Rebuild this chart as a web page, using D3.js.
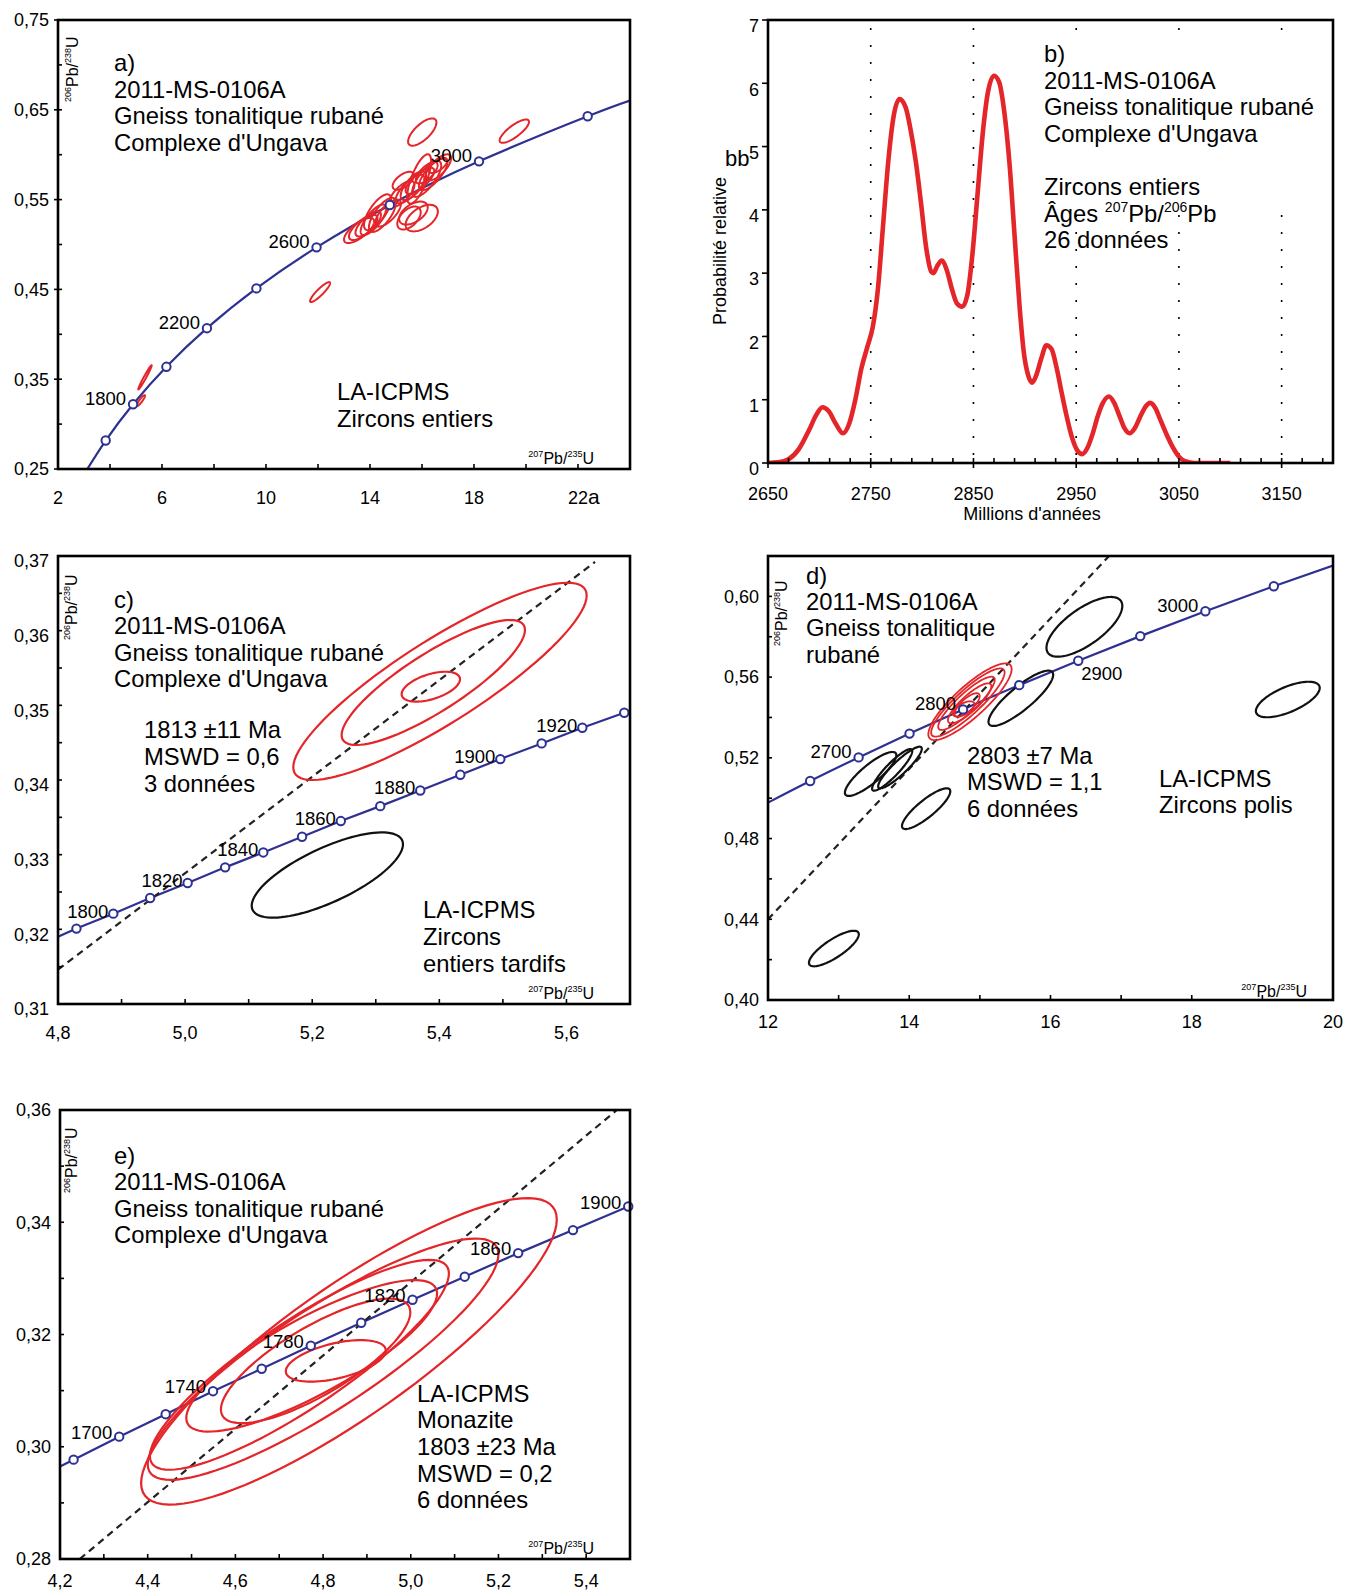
<!DOCTYPE html>
<html>
<head>
<meta charset="utf-8">
<title>2011-MS-0106A - diagrammes concordia</title>
<script src="https://d3js.org/d3.v7.min.js"></script>
<style>
  body { margin: 0; background: #fff; }
  svg { display: block; font-family: "Liberation Sans", Arial, Helvetica, sans-serif; }
</style>
</head>
<body>
<script>
var W = 1347, H = 1592;
var NAVY = "#2e3192", RED = "#e42529";

// ---------- a) zircons entiers ----------
var aConcAge = [1400, 1600, 1800, 2000, 2200, 2400, 2600, 2800, 3000, 3200, 3268];
var aConcX = [2.970, 3.834, 4.887, 6.169, 7.729, 9.630, 11.944, 14.762, 18.193, 22.372, 24.000];
var aConcY = [0.2426, 0.2817, 0.3221, 0.3638, 0.4068, 0.4511, 0.4968, 0.5440, 0.5926, 0.6428, 0.6603];
var aMarks = [1600, 1800, 2000, 2200, 2400, 2600, 2800, 3000, 3200];
var aAgeLabels = [1800, 2200, 2600, 3000];
var aXTicks = [2, 6, 10, 14, 18, 22];
var aXTickText = ["2", "6", "10", "14", "18", "22a"];
var aYTicks = [0.25, 0.35, 0.45, 0.55, 0.65, 0.75];
var aYTickText = ["0,25", "0,35", "0,45", "0,55", "0,65", "0,75"];
// [207Pb/235U, sigma, 206Pb/238U, sigma, rho]
var aZircons = [
  [5.346, 0.258, 0.3521, 0.0135, 0.98], [5.186, 0.160, 0.3261, 0.0061, 0.90],
  [12.08, 0.385, 0.4470, 0.0111, 0.90], [16.01, 0.545, 0.6252, 0.0152, 0.70],
  [19.55, 0.565, 0.6262, 0.0130, 0.80],
  [15.89, 0.46, 0.5730, 0.0275, 0.72], [16.18, 0.56, 0.5730, 0.0200, 0.75],
  [16.43, 0.55, 0.5785, 0.0180, 0.75], [16.63, 0.49, 0.5859, 0.0145, 0.70],
  [15.67, 0.49, 0.5655, 0.0160, 0.70], [15.92, 0.55, 0.5710, 0.0145, 0.75],
  [15.22, 0.49, 0.5563, 0.0145, 0.70], [15.54, 0.55, 0.5618, 0.0160, 0.75],
  [15.50, 0.45, 0.5295, 0.0128, 0.50], [15.99, 0.62, 0.5294, 0.0148, 0.50],
  [15.67, 0.55, 0.5350, 0.0128, 0.50], [14.29, 0.52, 0.5359, 0.0200, 0.72],
  [14.48, 0.52, 0.5330, 0.0190, 0.72], [14.70, 0.49, 0.5350, 0.0150, 0.70],
  [13.58, 0.58, 0.5156, 0.0140, 0.72], [13.74, 0.55, 0.5190, 0.0140, 0.72],
  [13.93, 0.49, 0.5230, 0.0140, 0.72], [14.13, 0.49, 0.5275, 0.0170, 0.75],
  [16.18, 0.42, 0.5800, 0.0120, 0.70], [15.28, 0.41, 0.5710, 0.0100, 0.60],
  [16.61, 0.35, 0.5877, 0.0080, 0.65]
];

// ---------- b) probabilite relative ----------
var bAge = [2650, 2660, 2670, 2680, 2690, 2697, 2703, 2709, 2716, 2723, 2729, 2735, 2741, 2747, 2752,
  2757, 2762, 2767, 2772, 2778, 2784, 2789, 2794, 2799, 2804, 2809, 2811, 2815, 2819, 2824, 2829, 2834,
  2839, 2844, 2849, 2854, 2859, 2864, 2870, 2875, 2880, 2885, 2890, 2895, 2899, 2903, 2907, 2911, 2916,
  2921, 2926, 2931, 2936, 2941, 2946, 2951, 2956, 2961, 2966, 2971, 2976, 2982, 2987, 2992, 2997, 3002,
  3007, 3012, 3018, 3022, 3027, 3032, 3038, 3044, 3050, 3056, 3065, 3100];
var bProb = [0, 0.01, 0.06, 0.22, 0.52, 0.76, 0.88, 0.82, 0.62, 0.47, 0.62, 1.00, 1.50, 1.85, 2.15,
  2.75, 3.75, 4.75, 5.45, 5.75, 5.62, 5.25, 4.75, 4.10, 3.40, 3.02, 3.00, 3.12, 3.20, 3.05, 2.75, 2.52,
  2.47, 2.65, 3.30, 4.25, 5.20, 5.85, 6.12, 6.02, 5.55, 4.75, 3.60, 2.45, 1.75, 1.40, 1.27, 1.38, 1.65,
  1.86, 1.80, 1.50, 1.10, 0.72, 0.40, 0.20, 0.14, 0.24, 0.46, 0.74, 0.95, 1.05, 0.95, 0.75, 0.55, 0.47,
  0.55, 0.72, 0.90, 0.95, 0.87, 0.68, 0.45, 0.25, 0.10, 0.03, 0, 0];
var bXTicks = [2650, 2750, 2850, 2950, 3050, 3150];
var bYTicks = [0, 1, 2, 3, 4, 5, 6, 7];

// ---------- c) zircons entiers tardifs ----------
var cConcAge = [1785, 1790, 1800, 1810, 1820, 1830, 1840, 1850, 1860, 1870, 1880, 1890, 1900, 1910, 1920, 1930, 1931];
var cConcX = [4.800, 4.829, 4.887, 4.945, 5.004, 5.063, 5.123, 5.184, 5.245, 5.307, 5.370, 5.433, 5.496, 5.561, 5.625, 5.691, 5.700];
var cConcY = [0.3190, 0.3201, 0.3221, 0.3242, 0.3262, 0.3283, 0.3303, 0.3324, 0.3345, 0.3365, 0.3386, 0.3407, 0.3428, 0.3449, 0.3470, 0.3490, 0.3493];
var cMarks = [1790, 1800, 1810, 1820, 1830, 1840, 1850, 1860, 1870, 1880, 1890, 1900, 1910, 1920, 1930];
var cAgeLabels = [1800, 1820, 1840, 1860, 1880, 1900, 1920];
var cXTicks = [4.8, 5.0, 5.2, 5.4, 5.6];
var cXTickText = ["4,8", "5,0", "5,2", "5,4", "5,6"];
var cYTicks = [0.31, 0.32, 0.33, 0.34, 0.35, 0.36, 0.37];
var cYTickText = ["0,31", "0,32", "0,33", "0,34", "0,35", "0,36", "0,37"];
var cRed = [[5.401, 0.2308, 0.35321, 0.01321, 0.87], [5.3905, 0.1442, 0.35306, 0.00837, 0.84], [5.3866, 0.0459, 0.3525, 0.0020, 0.50]];
var cBlack = [[5.2238, 0.119, 0.32727, 0.00571, 0.72]];
var cDiscordia = [[4.8, 0.3146], [5.645, 0.3692]];

// ---------- d) zircons polis ----------
var dConcAge = [2604, 2650, 2700, 2750, 2800, 2850, 2900, 2950, 3000, 3050, 3091];
var dConcX = [12.000, 12.597, 13.283, 14.004, 14.762, 15.557, 16.393, 17.271, 18.193, 19.162, 20.000];
var dConcY = [0.4978, 0.5085, 0.5202, 0.5320, 0.5440, 0.5560, 0.5681, 0.5803, 0.5926, 0.6050, 0.6153];
var dMarks = [2650, 2700, 2750, 2800, 2850, 2900, 2950, 3000, 3050];
var dAgeLabels = [2700, 2800, 3000];
var dAgeLabelsBelow = [2900];
var dXTicks = [12, 14, 16, 18, 20];
var dYTicks = [0.40, 0.44, 0.48, 0.52, 0.56, 0.60];
var dYTickText = ["0,40", "0,44", "0,48", "0,52", "0,56", "0,60"];
var dRed = [[14.86, 0.59, 0.5478, 0.0190, 0.85], [14.83, 0.52, 0.5474, 0.0169, 0.88], [14.81, 0.40, 0.5470, 0.0132, 0.88],
  [14.855, 0.307, 0.5470, 0.0099, 0.85], [14.82, 0.177, 0.5462, 0.0058, 0.75], [14.77, 0.153, 0.5442, 0.0038, 0.60]];
var dBlack = [[16.48, 0.537, 0.5849, 0.0148, 0.70], [15.58, 0.458, 0.5495, 0.0137, 0.85], [19.36, 0.452, 0.5489, 0.0088, 0.65],
  [13.453, 0.364, 0.5120, 0.0109, 0.85], [13.758, 0.284, 0.5140, 0.0103, 0.90], [13.869, 0.309, 0.5152, 0.0103, 0.90],
  [14.239, 0.342, 0.4948, 0.0101, 0.85], [12.933, 0.353, 0.4255, 0.0088, 0.80]];
var dDiscordia = [[12.0, 0.440], [16.83, 0.620]];

// ---------- e) monazite ----------
var eConcAge = [1674, 1680, 1700, 1720, 1740, 1760, 1780, 1800, 1820, 1840, 1860, 1880, 1900, 1901];
var eConcX = [4.200, 4.231, 4.335, 4.441, 4.549, 4.660, 4.772, 4.887, 5.004, 5.123, 5.245, 5.370, 5.496, 5.500];
var eConcY = [0.2965, 0.2977, 0.3018, 0.3058, 0.3099, 0.3139, 0.3180, 0.3221, 0.3262, 0.3303, 0.3345, 0.3386, 0.3428, 0.3429];
var eMarks = [1680, 1700, 1720, 1740, 1760, 1780, 1800, 1820, 1840, 1860, 1880, 1900];
var eAgeLabels = [1700, 1740, 1780, 1820, 1860, 1900];
var eXTicks = [4.2, 4.4, 4.6, 4.8, 5.0, 5.2, 5.4];
var eXTickText = ["4,2", "4,4", "4,6", "4,8", "5,0", "5,2", "5,4"];
var eYTicks = [0.28, 0.30, 0.32, 0.34, 0.36];
var eYTickText = ["0,28", "0,30", "0,32", "0,34", "0,36"];
var eRed = [[4.859, 0.474, 0.3170, 0.0273, 0.86], [4.800, 0.400, 0.3156, 0.0215, 0.87], [4.746, 0.341, 0.3146, 0.0187, 0.87],
  [4.774, 0.286, 0.3162, 0.0135, 0.82], [4.783, 0.216, 0.3153, 0.0111, 0.78], [4.829, 0.114, 0.3153, 0.0037, 0.50]];
var eDiscordia = [[4.245, 0.28], [5.47, 0.36]];

var svg = d3.select("body").append("svg").attr("width", W).attr("height", H);
var defs = svg.append("defs");
var TXT = 23.8, AGE = 18.5;

function makePanel(id, l, r, t, b, xd, yd) {
  var g = svg.append("g");
  defs.append("clipPath").attr("id", "clip-" + id)
    .append("rect").attr("x", l).attr("y", t).attr("width", r - l).attr("height", b - t);
  return {
    g: g, plot: g.append("g").attr("clip-path", "url(#clip-" + id + ")"),
    x: d3.scaleLinear().domain(xd).range([l, r]),
    y: d3.scaleLinear().domain(yd).range([b, t]),
    l: l, r: r, t: t, b: b
  };
}

function frame(p) {
  p.g.append("rect").attr("x", p.l).attr("y", p.t).attr("width", p.r - p.l).attr("height", p.b - p.t)
    .attr("fill", "none").attr("stroke", "#000").attr("stroke-width", 2.6);
}

// len > 0 : inside the frame
function xTicks(p, vals, len) {
  p.g.append("g").selectAll("line").data(vals).join("line")
    .attr("x1", d => p.x(d)).attr("x2", d => p.x(d)).attr("y1", p.b).attr("y2", p.b - len)
    .attr("stroke", "#000").attr("stroke-width", 1.6);
}
function yTicks(p, vals, len) {
  p.g.append("g").selectAll("line").data(vals).join("line")
    .attr("y1", d => p.y(d)).attr("y2", d => p.y(d)).attr("x1", p.l).attr("x2", p.l + len)
    .attr("stroke", "#000").attr("stroke-width", 1.6);
}

function xLabels(p, vals, texts, dy) {
  p.g.append("g").selectAll("text").data(vals).join("text")
    .attr("x", d => p.x(d)).attr("y", p.b + dy).attr("text-anchor", "middle").attr("font-size", 18)
    .each(function (d, i) {
      var t = texts[i], m = t.match(/^([\d,]+)(\D*)$/), el = d3.select(this);
      el.append("tspan").text(m[1]);
      if (m[2]) {
        var s = el.append("tspan").attr("font-size", 21).text(m[2]);
        el.attr("dx", s.node().getComputedTextLength() / 2);
      }
    });
}
function yLabels(p, vals, texts, dy) {
  p.g.append("g").selectAll("text").data(vals).join("text")
    .attr("x", p.l - 9).attr("y", d => p.y(d) + dy).attr("dy", "0.35em")
    .attr("text-anchor", "end").attr("font-size", 18).text((d, i) => texts[i]);
}

// superscript label, parts: [text, isSup]
function isoText(g, x, y, parts, fs, sfs, anchor, rotate) {
  var t = g.append("text").attr("transform", "translate(" + x + "," + y + ")" + (rotate ? " rotate(-90)" : ""))
    .attr("text-anchor", anchor).attr("font-size", fs);
  var up = false;
  parts.forEach(function (pt) {
    var s = t.append("tspan").text(pt[0]);
    if (pt[1]) { s.attr("font-size", sfs).attr("dy", up ? 0 : -fs * 0.42); up = true; }
    else { s.attr("dy", up ? fs * 0.42 : 0); up = false; }
  });
  return t;
}
var PB_U_Y = [["206", true], ["Pb/", false], ["238", true], ["U", false]];
var PB_U_X = [["207", true], ["Pb/", false], ["235", true], ["U", false]];

function textLines(g, x, y0, lines, step) {
  lines.forEach(function (s, i) {
    if (s) g.append("text").attr("x", x).attr("y", y0 + i * step).attr("font-size", TXT).text(s);
  });
}

function concordiaLine(p, xs, ys, curve) {
  p.plot.append("path")
    .attr("d", d3.line().curve(curve)(xs.map((v, i) => [p.x(v), p.y(ys[i])])))
    .attr("fill", "none").attr("stroke", NAVY).attr("stroke-width", 2.2);
}
function concordiaMarks(p, ages, xs, ys, marks) {
  p.g.append("g").selectAll("circle").data(marks.map(a => ages.indexOf(a))).join("circle")
    .attr("cx", i => p.x(xs[i])).attr("cy", i => p.y(ys[i])).attr("r", 4.2)
    .attr("fill", "#fff").attr("stroke", NAVY).attr("stroke-width", 2);
}
function ageLabels(p, ages, xs, ys, list, dx, dy, anchor) {
  p.g.append("g").selectAll("text").data(list).join("text")
    .attr("x", a => p.x(xs[ages.indexOf(a)]) + dx).attr("y", a => p.y(ys[ages.indexOf(a)]) + dy)
    .attr("text-anchor", anchor).attr("font-size", AGE).text(a => a);
}

var theta = d3.range(0, 97).map(k => k / 96 * 2 * Math.PI);
function ellipses(p, list, color, sw) {
  p.plot.append("g").selectAll("path").data(list).join("path")
    .attr("d", function (e) {
      var s = Math.sqrt(1 - e[4] * e[4]);
      return d3.line()(theta.map(t => [p.x(e[0] + e[1] * Math.cos(t)),
        p.y(e[2] + e[3] * (e[4] * Math.cos(t) + s * Math.sin(t)))])) + "Z";
    })
    .attr("fill", "none").attr("stroke", color).attr("stroke-width", sw);
}
function discordia(p, pts) {
  p.plot.append("path").attr("d", d3.line()(pts.map(d => [p.x(d[0]), p.y(d[1])])))
    .attr("fill", "none").attr("stroke", "#222").attr("stroke-width", 2.2).attr("stroke-dasharray", "7,5");
}

// ================= a =================
var pa = makePanel("a", 58, 630, 20, 469, [2, 24], [0.25, 0.75]);
concordiaLine(pa, aConcX, aConcY, d3.curveNatural);
ellipses(pa, aZircons, RED, 2);
concordiaMarks(pa, aConcAge, aConcX, aConcY, aMarks);
ageLabels(pa, aConcAge, aConcX, aConcY, aAgeLabels, -7, 1, "end");
xTicks(pa, d3.range(4, 24, 2), 5);
yTicks(pa, d3.range(0.30, 0.75, 0.05), 4);
yTicks(pa, aYTicks, -4);
xLabels(pa, aXTicks, aXTickText, 35);
yLabels(pa, aYTicks, aYTickText, 0);
frame(pa);
isoText(pa.g, 78, 102, PB_U_Y, 16, 9, "start", true);
isoText(pa.g, 594, 464, PB_U_X, 16, 9, "end", false);
textLines(pa.g, 114, 71, ["a)", "2011-MS-0106A", "Gneiss tonalitique rubané", "Complexe d'Ungava"], 26.6);
textLines(pa.g, 337, 400, ["LA-ICPMS", "Zircons entiers"], 26.6);

// ================= b =================
var pb = makePanel("b", 768, 1333, 20, 463, [2650, 3200], [0, 7]);
pb.plot.append("g").selectAll("line").data([2750, 2850, 2950, 3050, 3150]).join("line")
  .attr("x1", d => pb.x(d)).attr("x2", d => pb.x(d)).attr("y1", pb.t + 8).attr("y2", pb.b)
  .attr("stroke", "#000").attr("stroke-width", 1.6).attr("stroke-dasharray", "2,15");
pb.g.append("rect").attr("x", 1040).attr("y", 42).attr("width", 286).attr("height", 168).attr("fill", "#fff");
pb.plot.append("path")
  .attr("d", d3.line().curve(d3.curveMonotoneX)(bAge.map((a, i) => [pb.x(a), pb.y(bProb[i])])))
  .attr("fill", "none").attr("stroke", RED).attr("stroke-width", 4.6).attr("stroke-linejoin", "round");
xTicks(pb, d3.range(2670, 3200, 20), 5);
xTicks(pb, bXTicks, -5);
yTicks(pb, bYTicks, -6);
frame(pb);
pb.g.append("g").selectAll("text").data(bXTicks).join("text")
  .attr("x", d => pb.x(d)).attr("y", pb.b + 37).attr("text-anchor", "middle").attr("font-size", 18).text(d => d);
pb.g.append("g").selectAll("text").data(bYTicks).join("text")
  .attr("x", pb.l - 9).attr("y", d => pb.y(d) + 6).attr("dy", "0.35em")
  .attr("text-anchor", "end").attr("font-size", 18).text(d => d);
pb.g.append("text").attr("x", 725).attr("y", 166).attr("font-size", 22).text("bb");
pb.g.append("text").attr("transform", "translate(726,251) rotate(-90)").attr("text-anchor", "middle")
  .attr("font-size", 18).text("Probabilité relative");
pb.g.append("text").attr("x", 1032).attr("y", 520).attr("text-anchor", "middle").attr("font-size", 18)
  .text("Millions d'années");
textLines(pb.g, 1044, 62, ["b)", "2011-MS-0106A", "Gneiss tonalitique rubané", "Complexe d'Ungava", "", "Zircons entiers"], 26.6);
var ages = pb.g.append("text").attr("x", 1044).attr("y", 221.7).attr("font-size", TXT);
ages.append("tspan").text("Âges ");
ages.append("tspan").attr("font-size", 14).attr("dy", -10).text("207");
ages.append("tspan").attr("dy", 10).text("Pb/");
ages.append("tspan").attr("font-size", 14).attr("dy", -10).text("206");
ages.append("tspan").attr("dy", 10).text("Pb");
textLines(pb.g, 1044, 248.3, ["26 données"], 26.6);

// ================= c =================
var pc = makePanel("c", 58, 630, 556, 1004, [4.8, 5.7], [0.31, 0.37]);
concordiaLine(pc, cConcX, cConcY, d3.curveLinear);
discordia(pc, cDiscordia);
ellipses(pc, cRed, RED, 2.2);
ellipses(pc, cBlack, "#111", 2.2);
concordiaMarks(pc, cConcAge, cConcX, cConcY, cMarks);
ageLabels(pc, cConcAge, cConcX, cConcY, cAgeLabels, -5, 4, "end");
xTicks(pc, d3.range(4.9, 5.7, 0.1), 5);
yTicks(pc, d3.range(0.315, 0.37, 0.005), 4);
xLabels(pc, cXTicks, cXTickText, 35);
yLabels(pc, cYTicks, cYTickText, 5);
frame(pc);
isoText(pc.g, 77, 640, PB_U_Y, 16, 9, "start", true);
isoText(pc.g, 594, 999, PB_U_X, 16, 9, "end", false);
textLines(pc.g, 114, 607.5, ["c)", "2011-MS-0106A", "Gneiss tonalitique rubané", "Complexe d'Ungava"], 26.6);
textLines(pc.g, 144, 738.3, ["1813 ±11 Ma", "MSWD = 0,6", "3 données"], 26.7);
textLines(pc.g, 423, 918.3, ["LA-ICPMS", "Zircons", "entiers tardifs"], 26.7);

// ================= d =================
var pd = makePanel("d", 768, 1333, 556, 1000, [12, 20], [0.40, 0.62]);
concordiaLine(pd, dConcX, dConcY, d3.curveNatural);
discordia(pd, dDiscordia);
ellipses(pd, dBlack, "#111", 2.2);
ellipses(pd, dRed, RED, 1.8);
concordiaMarks(pd, dConcAge, dConcX, dConcY, dMarks);
ageLabels(pd, dConcAge, dConcX, dConcY, dAgeLabels, -7, 1, "end");
ageLabels(pd, dConcAge, dConcX, dConcY, dAgeLabelsBelow, 3, 19, "start");
xTicks(pd, d3.range(13, 20, 1), 5);
yTicks(pd, d3.range(0.42, 0.62, 0.02), 4);
pd.g.append("g").selectAll("text").data(dXTicks).join("text")
  .attr("x", d => pd.x(d)).attr("y", pd.b + 28).attr("text-anchor", "middle").attr("font-size", 18).text(d => d);
yLabels(pd, dYTicks, dYTickText, 0);
frame(pd);
isoText(pd.g, 787, 646, PB_U_Y, 16, 9, "start", true);
isoText(pd.g, 1307, 997, PB_U_X, 16, 9, "end", false);
textLines(pd.g, 806, 583.5, ["d)", "2011-MS-0106A", "Gneiss tonalitique", "rubané"], 26.4);
textLines(pd.g, 967, 763.5, ["2803 ±7 Ma", "MSWD = 1,1", "6 données"], 26.6);
textLines(pd.g, 1159, 786.7, ["LA-ICPMS", "Zircons polis"], 26.6);

// ================= e =================
var pe = makePanel("e", 60, 630, 1110, 1559, [4.2, 5.5], [0.28, 0.36]);
concordiaLine(pe, eConcX, eConcY, d3.curveLinear);
discordia(pe, eDiscordia);
ellipses(pe, eRed, RED, 2.2);
concordiaMarks(pe, eConcAge, eConcX, eConcY, eMarks);
ageLabels(pe, eConcAge, eConcX, eConcY, eAgeLabels, -7, 2, "end");
xTicks(pe, d3.range(4.3, 5.5, 0.1), 5);
yTicks(pe, d3.range(0.29, 0.36, 0.01), 4);
xLabels(pe, eXTicks, eXTickText, 28);
yLabels(pe, eYTicks, eYTickText, 0);
frame(pe);
isoText(pe.g, 77, 1193, PB_U_Y, 16, 9, "start", true);
isoText(pe.g, 594, 1554, PB_U_X, 16, 9, "end", false);
textLines(pe.g, 114, 1163.5, ["e)", "2011-MS-0106A", "Gneiss tonalitique rubané", "Complexe d'Ungava"], 26.6);
textLines(pe.g, 417, 1401.7, ["LA-ICPMS", "Monazite", "1803 ±23 Ma", "MSWD = 0,2", "6 données"], 26.65);
</script>
</body>
</html>
